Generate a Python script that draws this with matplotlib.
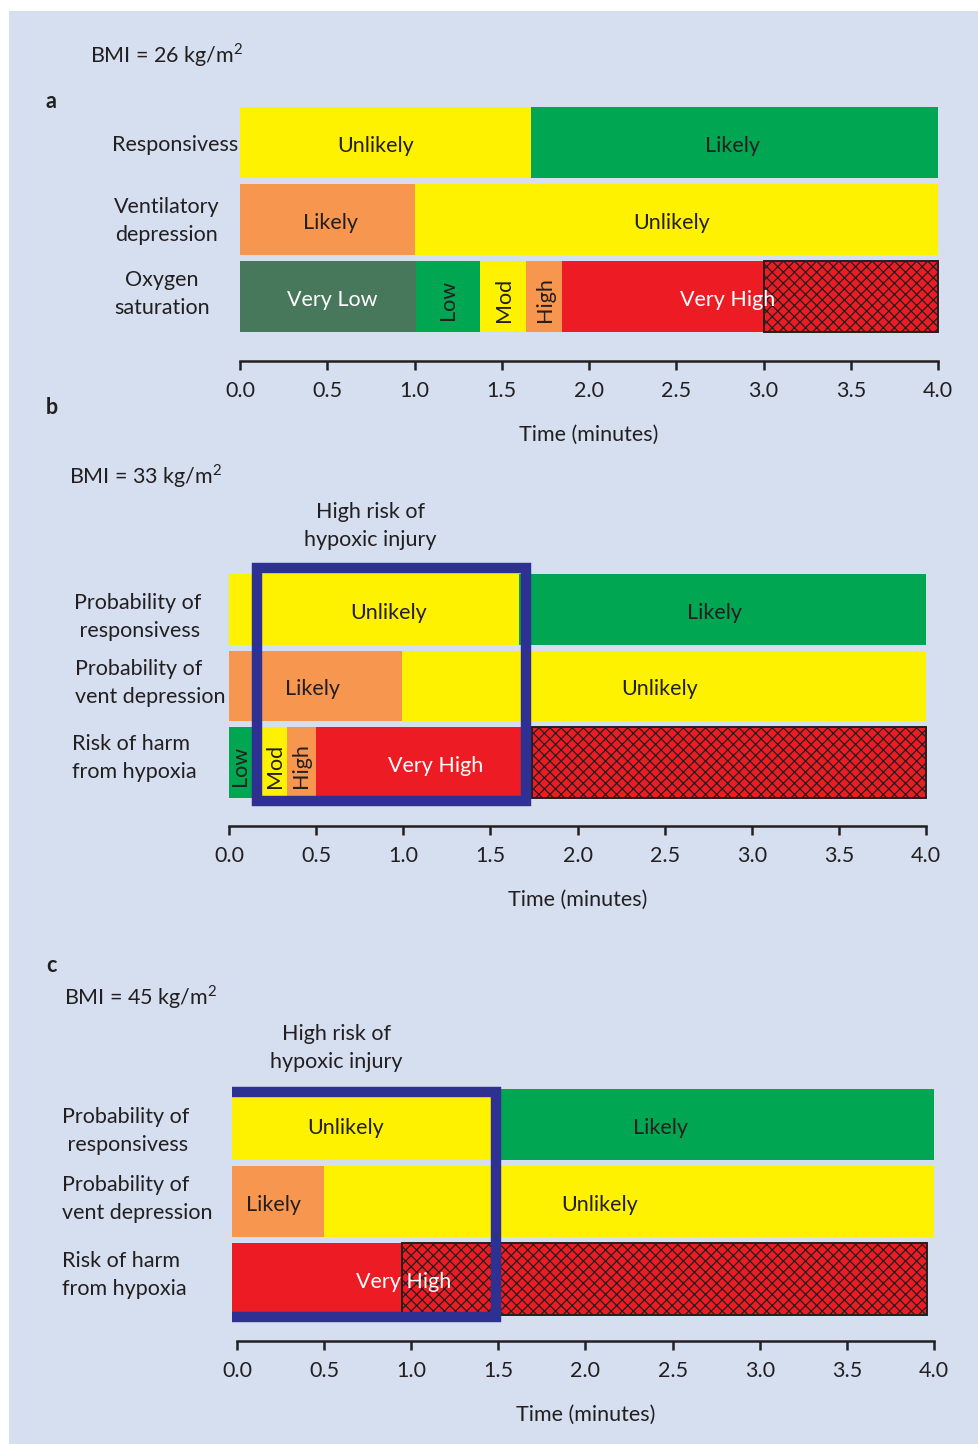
import numpy as np
import matplotlib.pyplot as plt
from matplotlib.patches import Rectangle

# ---------------------------------------------------------------
#  Figure size and palette
# ---------------------------------------------------------------
W, H = 979, 1444
BG = "#d5dff0"
INK = "#231f20"
BOX = "#2e3192"
PALETTE = {"Y": "#fff200", "G": "#00a651", "D": "#48785b",
           "O": "#f7964f", "R": "#ed1c24", "X": "#ed1c24"}

plt.rcParams["font.family"] = ["Lato", "DejaVu Sans"]
plt.rcParams["mathtext.fontset"] = "custom"
plt.rcParams["mathtext.rm"] = "Lato"
plt.rcParams["hatch.linewidth"] = 0.9
FS = 15.5
LS = 1.5

# ---------------------------------------------------------------
#  Data: segment edges (minutes), fill codes and captions per row
#  (X = red with cross-hatching)
# ---------------------------------------------------------------
A_ROWS = ["Responsivess", "Ventilatory\ndepression", "Oxygen\nsaturation"]
A_EDGES = [[0.0, 1.67, 4.0],
           [0.0, 1.0, 4.0],
           [0.0, 1.01, 1.375, 1.64, 1.845, 3.0, 4.0]]
A_FILLS = [["Y", "G"], ["O", "Y"], ["D", "G", "Y", "O", "R", "X"]]
A_LABELS = [(0.78, 0, "Unlikely"), (2.825, 0, "Likely"),
            (0.516, 1, "Likely"), (2.476, 1, "Unlikely"),
            (0.527, 2, "Very Low"), (1.19, 2, "Low"), (1.513, 2, "Mod"),
            (1.748, 2, "High"), (2.797, 2, "Very High")]

B_ROWS = ["Probability of\n responsivess", "Probability of\nvent depression",
          "Risk of harm\nfrom hypoxia"]
B_EDGES = [[0.0, 1.665, 4.0],
           [0.0, 0.993, 4.0],
           [0.0, 0.13, 0.33, 0.5, 1.74, 4.0]]
B_FILLS = [["Y", "G"], ["O", "Y"], ["G", "Y", "O", "R", "X"]]
B_LABELS = [(0.918, 0, "Unlikely"), (2.789, 0, "Likely"),
            (0.482, 1, "Likely"), (2.473, 1, "Unlikely"),
            (0.063, 2, "Low"), (0.264, 2, "Mod"), (0.413, 2, "High"),
            (1.188, 2, "Very High")]
B_WINDOW = (0.16, 1.707)

C_ROWS = B_ROWS
C_EDGES = [[-0.03, 1.515, 4.0],
           [-0.03, 0.5, 4.0],
           [-0.03, 0.945, 3.96]]
C_FILLS = [["Y", "G"], ["O", "Y"], ["R", "X"]]
C_LABELS = [(0.626, 0, "Unlikely"), (2.433, 0, "Likely"),
            (0.207, 1, "Likely"), (2.083, 1, "Unlikely"),
            (0.958, 2, "Very High")]
C_WINDOW = (-0.03, 1.486)

ROTATED = {"Low", "Mod", "High"}
WHITE = {"Very Low", "Very High"}
TICKS = np.arange(0, 4.01, 0.5)


def fx(px):
    return px / W


def fy(py):
    return 1 - py / H


def ftext(px, py, s, **kw):
    kw.setdefault("fontsize", FS)
    kw.setdefault("color", INK)
    kw.setdefault("linespacing", LS)
    fig.text(fx(px), fy(py), s, **kw)


fig = plt.figure(figsize=(W / 100, H / 100), dpi=100, facecolor="white")
fig.patches.append(Rectangle((fx(9), 0), 1, fy(11), transform=fig.transFigure,
                             facecolor=BG, edgecolor="none", zorder=-10))


def panel(x0, ppm, yc, pitch, spine, edges, fills, labels):
    """x0: pixel of t=0, ppm: pixels per minute, yc: centre of first row,
    pitch: row spacing, spine: pixel row of the time axis."""
    xl, xr = -0.06, 4.06
    ytop = -0.6
    ybot = (spine - yc) / pitch
    left = x0 + xl * ppm
    top = yc + ytop * pitch
    ax = fig.add_axes([fx(left), fy(spine), (xr - xl) * ppm / W,
                       (spine - top) / H])
    ax.set_facecolor("none")
    ax.set_xlim(xl, xr)
    ax.set_ylim(ybot, ytop)

    for row, (e, f) in enumerate(zip(edges, fills)):
        for a, b, code in zip(e[:-1], e[1:], f):
            if code == "X":
                ax.barh(row, b - a, left=a, height=0.92, color=PALETTE[code],
                        edgecolor=INK, hatch="xxx", linewidth=1.4, zorder=2)
            else:
                ax.barh(row, b - a, left=a, height=0.92, color=PALETTE[code],
                        linewidth=0, zorder=1)

    for x, row, s in labels:
        rot = 90 if s in ROTATED else 0
        col = "white" if s in WHITE else INK
        ax.text(x, row + 0.04, s, ha="center", va="center", rotation=rot,
                fontsize=FS, color=col, zorder=3)

    for side in ("left", "top", "right"):
        ax.spines[side].set_visible(False)
    ax.spines["bottom"].set_bounds(0, 4)
    ax.spines["bottom"].set_linewidth(1.8)
    ax.spines["bottom"].set_color(INK)
    ax.set_yticks([])
    ax.set_xticks(TICKS)
    ax.set_xticklabels([f"{t:.1f}" for t in TICKS])
    ax.tick_params(axis="x", direction="out", length=6.5, width=1.8,
                   color=INK, labelsize=FS, labelcolor=INK, pad=8)
    ax.set_xlabel("Time (minutes)", fontsize=FS, color=INK, labelpad=17)
    return ax


# ---- a: BMI 26 ----
ax_a = panel(240, 174.5, 142.5, 77, 361, A_EDGES, A_FILLS, A_LABELS)
ftext(90, 55, "BMI = 26 kg/m$^{\\mathregular{2}}$", va="center")
ftext(46, 101, "a", fontweight="bold", va="center")
ftext(238, 145, A_ROWS[0], ha="right", va="center")
ftext(167, 221, A_ROWS[1], ha="center", va="center")
ftext(162, 294, A_ROWS[2], ha="center", va="center")

# ---- b: BMI 33 ----
ax_b = panel(229, 174.25, 609.5, 76.5, 826, B_EDGES, B_FILLS, B_LABELS)
ax_b.add_patch(Rectangle((B_WINDOW[0], -0.542), B_WINDOW[1] - B_WINDOW[0],
                         3.04, fill=False, edgecolor=BOX, linewidth=7.5,
                         joinstyle="miter", zorder=5, clip_on=False))
ftext(46, 408, "b", fontweight="bold", va="center")
ftext(69, 476, "BMI = 33 kg/m$^{\\mathregular{2}}$", va="center")
ftext(370, 526, "High risk of\nhypoxic injury", ha="center", va="center")
ftext(74, 617, B_ROWS[0], va="center")
ftext(75, 683, B_ROWS[1], va="center")
ftext(72, 758, B_ROWS[2], va="center")

# ---- c: BMI 45 ----
ax_c = panel(237, 174.25, 1124.5, 77.25, 1341, C_EDGES, C_FILLS, C_LABELS)
top, bot = -0.422, 2.49
ax_c.plot([C_WINDOW[0], C_WINDOW[1], C_WINDOW[1], C_WINDOW[0]],
          [top, top, bot, bot], color=BOX, linewidth=7.5,
          solid_joinstyle="miter", solid_capstyle="butt", zorder=5,
          clip_on=False)
ftext(46, 966, "c", fontweight="bold", va="center")
ftext(64, 997, "BMI = 45 kg/m$^{\\mathregular{2}}$", va="center")
ftext(336, 1048, "High risk of\nhypoxic injury", ha="center", va="center")
ftext(62, 1131, C_ROWS[0], va="center")
ftext(62, 1199, C_ROWS[1], va="center")
ftext(62, 1275, C_ROWS[2], va="center")

fig.savefig("out.png", dpi=100, facecolor="white")
